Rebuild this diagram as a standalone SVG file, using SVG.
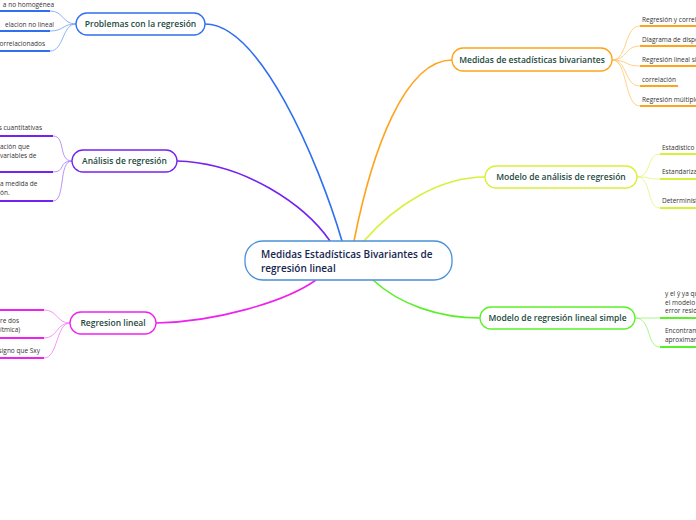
<svg xmlns="http://www.w3.org/2000/svg" width="696" height="520" viewBox="0 0 696 520">
<style>
.nt{font-family:"Open Sans","Noto Sans",sans-serif;font-size:8.5px;font-weight:600;fill:#1d4a3d;text-anchor:middle}
.ct{font-family:"Open Sans","Noto Sans",sans-serif;font-size:10px;font-weight:600;fill:#172650}
.st{font-family:"Open Sans","Noto Sans",sans-serif;font-size:6.5px;fill:#333}
.nb{fill:#fff;stroke-width:1.3}
.cn{fill:none;stroke-width:1.6}
.sc{fill:none;stroke-width:0.8}
.ul{fill:none;stroke-width:2}
</style>
<g id="connectors">
<path class="cn" stroke="#2f6ff0" d="M205,24 C260,24 318,160 342,241"/>
<path class="cn" stroke="#7422f0" d="M177,161 C245,163 305,205 330,241"/>
<path class="cn" stroke="#ee22ee" d="M156,323 C215,322 285,302 316,280"/>
<path class="cn" stroke="#ffa31a" d="M452,60 C405,60 372,150 354,241"/>
<path class="cn" stroke="#d8f03a" d="M485,177 C440,177 395,205 364,241"/>
<path class="cn" stroke="#5cf02a" d="M373,280 C400,305 440,318 480,318"/>
<g stroke="#6e9ff5">
<path class="sc" d="M76,24 C62,24 64,11 50,11"/>
<path class="sc" d="M76,24 C62,24 64,31 50,31"/>
<path class="sc" d="M76,24 C62,24 64,51 50,51"/>
</g>
<path class="ul" stroke="#2f6ff0" d="M0,11 H50 M0,31 H50 M0,51 H50"/>
<g stroke="#a878f5">
<path class="sc" d="M72,161 C58,161 66,136 53,136"/>
<path class="sc" d="M72,161 C58,161 66,172 53,172"/>
<path class="sc" d="M72,161 C58,161 66,201 53,201"/>
</g>
<path class="ul" stroke="#7422f0" d="M0,136 H53 M0,172 H53 M0,201 H53"/>
<g stroke="#f27cf2">
<path class="sc" d="M70,323 C56,323 58,310 44,310"/>
<path class="sc" d="M70,323 C56,323 58,338 44,338"/>
<path class="sc" d="M70,323 C56,323 58,358 44,358"/>
</g>
<path class="ul" stroke="#ee22ee" d="M0,310 H44 M0,338 H44 M0,358 H44"/>
<g stroke="#ffc56a">
<path class="sc" d="M612,60 C628,60 624,26 640,26"/>
<path class="sc" d="M612,60 C628,60 624,46 640,46"/>
<path class="sc" d="M612,60 C628,60 624,66 640,66"/>
<path class="sc" d="M612,60 C628,60 624,86 640,86"/>
<path class="sc" d="M612,60 C628,60 624,106 640,106"/>
</g>
<path class="ul" stroke="#ffa31a" d="M640,26 H696 M640,46 H696 M640,66 H696 M640,86 H678 M640,106 H696"/>
<g stroke="#e2f57a">
<path class="sc" d="M637,177 C652,177 646,154 660,154"/>
<path class="sc" d="M637,177 C652,177 646,179 660,179"/>
<path class="sc" d="M637,177 C652,177 646,208 660,208"/>
</g>
<path class="ul" stroke="#d8f03a" d="M660,154 H696 M660,179 H696 M660,208 H696"/>
<g stroke="#8ff56a">
<path class="sc" d="M635,318 C648,318 648,318 660,318"/>
<path class="sc" d="M635,318 C652,318 646,347 660,347"/>
</g>
<path class="ul" stroke="#5cf02a" d="M660,318 H696 M660,347 H696"/>
</g>
<g id="central">
<rect x="245" y="241" width="207" height="39" rx="18" fill="#fff" stroke="#4a90d9" stroke-width="1.3"/>
<text class="ct" x="261" y="258">Medidas Estadísticas Bivariantes de</text>
<text class="ct" x="261" y="272">regresión lineal</text>
</g>
<g id="problemas">
<rect class="nb" stroke="#2f6ff0" x="76" y="13" width="129" height="22" rx="11"/>
<text class="nt" x="140.5" y="27">Problemas con la regresión</text>
<text class="st" x="54" y="7" text-anchor="end">a no homogénea</text>
<text class="st" x="54" y="27" text-anchor="end">elacion no lineal</text>
<text class="st" x="45" y="46" text-anchor="end">correlacionados</text>
</g>
<g id="analisis">
<rect class="nb" stroke="#7422f0" x="72" y="150" width="105" height="22" rx="11"/>
<text class="nt" x="124.5" y="164">Análisis de regresión</text>
<text class="st" x="42" y="130" text-anchor="end">es cuantitativas</text>
<text class="st" x="0" y="149">ación que</text>
<text class="st" x="0" y="158">variables de</text>
<text class="st" x="0" y="186">a medida de</text>
<text class="st" x="0" y="195">ón.</text>
</g>
<g id="regresion-lineal">
<rect class="nb" stroke="#ee22ee" x="70" y="312" width="86" height="22" rx="11"/>
<text class="nt" x="113" y="326">Regresion lineal</text>
<text class="st" x="0" y="323">re dos</text>
<text class="st" x="0" y="332">ítmica)</text>
<text class="st" x="40" y="353" text-anchor="end">e signo que Sxy</text>
</g>
<g id="bivariantes">
<rect class="nb" stroke="#ffa31a" x="452" y="48" width="160" height="23" rx="11"/>
<text class="nt" x="532" y="62.5">Medidas de estadísticas bivariantes</text>
<text class="st" x="642" y="22">Regresión y correla</text>
<text class="st" x="642" y="42">Diagrama de dispe</text>
<text class="st" x="642" y="62">Regresión lineal sim</text>
<text class="st" x="642" y="82">correlación</text>
<text class="st" x="642" y="102">Regresión múltiple</text>
</g>
<g id="modelo-analisis">
<rect class="nb" stroke="#d8f03a" x="485" y="166" width="152" height="22" rx="11"/>
<text class="nt" x="561" y="180">Modelo de análisis de regresión</text>
<text class="st" x="662" y="150">Estadístico</text>
<text class="st" x="662" y="174">Estandariza</text>
<text class="st" x="662" y="203">Determinísti</text>
</g>
<g id="modelo-simple">
<rect class="nb" stroke="#5cf02a" x="480" y="307" width="155" height="22" rx="11"/>
<text class="nt" x="557.5" y="321">Modelo de regresión lineal simple</text>
<text class="st" x="665" y="296">y el ŷ ya qu</text>
<text class="st" x="665" y="304.5">el modelo c</text>
<text class="st" x="665" y="313">error resid</text>
<text class="st" x="665" y="333">Encontrame</text>
<text class="st" x="665" y="342">aproximar</text>
</g>
</svg>
